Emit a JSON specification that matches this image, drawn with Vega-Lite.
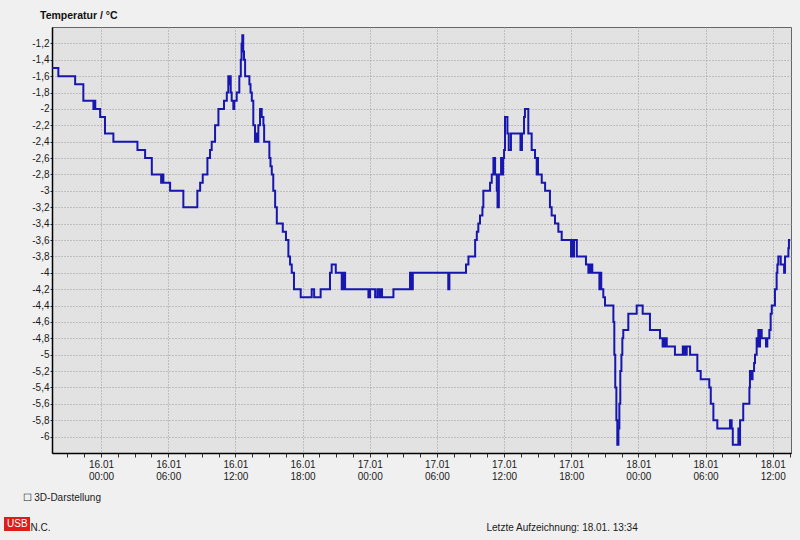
{
  "$schema": "https://vega.github.io/schema/vega-lite/v6.json",
  "width": 739,
  "height": 426,
  "autosize": {"type": "none"},
  "padding": {"left": 52, "top": 27, "right": 9, "bottom": 87},
  "background": "#f0f0f0",
  "config": {
    "font": "Liberation Sans",
    "view": {"fill": "#e2e2e2", "stroke": "#666666", "strokeWidth": 1},
    "axisY": {"labelOverlap": false}
  },
  "title": {
    "text": "Temperatur / °C",
    "orient": "top",
    "anchor": "start",
    "frame": "group",
    "dx": -12,
    "offset": 6,
    "fontSize": 10.5,
    "fontWeight": "bold",
    "color": "#111111"
  },
  "data": {
    "values": [
      {"time": "2013-01-15T19:37", "temp": -1.5},
      {"time": "2013-01-15T20:11", "temp": -1.6},
      {"time": "2013-01-15T21:41", "temp": -1.7},
      {"time": "2013-01-15T22:25", "temp": -1.9},
      {"time": "2013-01-15T23:19", "temp": -2.0},
      {"time": "2013-01-15T23:24", "temp": -1.9},
      {"time": "2013-01-15T23:29", "temp": -2.0},
      {"time": "2013-01-15T23:55", "temp": -2.1},
      {"time": "2013-01-16T00:21", "temp": -2.3},
      {"time": "2013-01-16T01:06", "temp": -2.4},
      {"time": "2013-01-16T03:15", "temp": -2.5},
      {"time": "2013-01-16T03:56", "temp": -2.6},
      {"time": "2013-01-16T04:32", "temp": -2.8},
      {"time": "2013-01-16T05:22", "temp": -2.9},
      {"time": "2013-01-16T05:27", "temp": -2.8},
      {"time": "2013-01-16T05:34", "temp": -2.9},
      {"time": "2013-01-16T06:10", "temp": -3.0},
      {"time": "2013-01-16T07:21", "temp": -3.2},
      {"time": "2013-01-16T08:36", "temp": -3.0},
      {"time": "2013-01-16T08:51", "temp": -2.9},
      {"time": "2013-01-16T09:05", "temp": -2.8},
      {"time": "2013-01-16T09:30", "temp": -2.6},
      {"time": "2013-01-16T09:44", "temp": -2.5},
      {"time": "2013-01-16T09:53", "temp": -2.4},
      {"time": "2013-01-16T10:11", "temp": -2.2},
      {"time": "2013-01-16T10:29", "temp": -2.0},
      {"time": "2013-01-16T10:59", "temp": -1.9},
      {"time": "2013-01-16T11:14", "temp": -1.8},
      {"time": "2013-01-16T11:22", "temp": -1.6},
      {"time": "2013-01-16T11:28", "temp": -1.7},
      {"time": "2013-01-16T11:31", "temp": -1.6},
      {"time": "2013-01-16T11:35", "temp": -1.8},
      {"time": "2013-01-16T11:40", "temp": -1.9},
      {"time": "2013-01-16T11:49", "temp": -2.0},
      {"time": "2013-01-16T11:54", "temp": -1.9},
      {"time": "2013-01-16T12:07", "temp": -1.8},
      {"time": "2013-01-16T12:21", "temp": -1.6},
      {"time": "2013-01-16T12:29", "temp": -1.4},
      {"time": "2013-01-16T12:33", "temp": -1.2},
      {"time": "2013-01-16T12:37", "temp": -1.1},
      {"time": "2013-01-16T12:42", "temp": -1.3},
      {"time": "2013-01-16T12:46", "temp": -1.4},
      {"time": "2013-01-16T12:52", "temp": -1.6},
      {"time": "2013-01-16T13:15", "temp": -1.7},
      {"time": "2013-01-16T13:21", "temp": -1.8},
      {"time": "2013-01-16T13:28", "temp": -1.9},
      {"time": "2013-01-16T13:36", "temp": -2.2},
      {"time": "2013-01-16T13:45", "temp": -2.4},
      {"time": "2013-01-16T13:52", "temp": -2.3},
      {"time": "2013-01-16T13:56", "temp": -2.4},
      {"time": "2013-01-16T14:03", "temp": -2.2},
      {"time": "2013-01-16T14:12", "temp": -2.0},
      {"time": "2013-01-16T14:21", "temp": -2.1},
      {"time": "2013-01-16T14:30", "temp": -2.2},
      {"time": "2013-01-16T14:34", "temp": -2.4},
      {"time": "2013-01-16T15:02", "temp": -2.6},
      {"time": "2013-01-16T15:08", "temp": -2.7},
      {"time": "2013-01-16T15:15", "temp": -2.8},
      {"time": "2013-01-16T15:23", "temp": -3.0},
      {"time": "2013-01-16T15:33", "temp": -3.2},
      {"time": "2013-01-16T15:42", "temp": -3.4},
      {"time": "2013-01-16T16:14", "temp": -3.5},
      {"time": "2013-01-16T16:31", "temp": -3.6},
      {"time": "2013-01-16T16:44", "temp": -3.8},
      {"time": "2013-01-16T16:53", "temp": -3.9},
      {"time": "2013-01-16T17:02", "temp": -4.0},
      {"time": "2013-01-16T17:14", "temp": -4.2},
      {"time": "2013-01-16T17:50", "temp": -4.3},
      {"time": "2013-01-16T18:49", "temp": -4.2},
      {"time": "2013-01-16T19:02", "temp": -4.3},
      {"time": "2013-01-16T19:37", "temp": -4.2},
      {"time": "2013-01-16T20:27", "temp": -4.0},
      {"time": "2013-01-16T20:36", "temp": -3.9},
      {"time": "2013-01-16T20:58", "temp": -4.0},
      {"time": "2013-01-16T21:30", "temp": -4.2},
      {"time": "2013-01-16T21:34", "temp": -4.0},
      {"time": "2013-01-16T21:39", "temp": -4.2},
      {"time": "2013-01-16T21:42", "temp": -4.0},
      {"time": "2013-01-16T21:48", "temp": -4.2},
      {"time": "2013-01-16T23:53", "temp": -4.3},
      {"time": "2013-01-17T00:02", "temp": -4.2},
      {"time": "2013-01-17T00:29", "temp": -4.3},
      {"time": "2013-01-17T00:41", "temp": -4.2},
      {"time": "2013-01-17T00:52", "temp": -4.3},
      {"time": "2013-01-17T01:01", "temp": -4.2},
      {"time": "2013-01-17T01:06", "temp": -4.3},
      {"time": "2013-01-17T02:07", "temp": -4.2},
      {"time": "2013-01-17T03:36", "temp": -4.0},
      {"time": "2013-01-17T03:40", "temp": -4.2},
      {"time": "2013-01-17T03:43", "temp": -4.0},
      {"time": "2013-01-17T03:47", "temp": -4.2},
      {"time": "2013-01-17T03:51", "temp": -4.0},
      {"time": "2013-01-17T07:01", "temp": -4.2},
      {"time": "2013-01-17T07:07", "temp": -4.0},
      {"time": "2013-01-17T08:36", "temp": -3.9},
      {"time": "2013-01-17T08:49", "temp": -3.8},
      {"time": "2013-01-17T09:25", "temp": -3.6},
      {"time": "2013-01-17T09:34", "temp": -3.5},
      {"time": "2013-01-17T09:42", "temp": -3.4},
      {"time": "2013-01-17T09:51", "temp": -3.3},
      {"time": "2013-01-17T10:04", "temp": -3.2},
      {"time": "2013-01-17T10:09", "temp": -3.0},
      {"time": "2013-01-17T10:45", "temp": -2.9},
      {"time": "2013-01-17T10:54", "temp": -2.8},
      {"time": "2013-01-17T11:03", "temp": -2.6},
      {"time": "2013-01-17T11:12", "temp": -2.8},
      {"time": "2013-01-17T11:21", "temp": -3.0},
      {"time": "2013-01-17T11:25", "temp": -3.2},
      {"time": "2013-01-17T11:32", "temp": -2.8},
      {"time": "2013-01-17T11:44", "temp": -2.6},
      {"time": "2013-01-17T11:49", "temp": -2.8},
      {"time": "2013-01-17T11:55", "temp": -2.6},
      {"time": "2013-01-17T12:00", "temp": -2.5},
      {"time": "2013-01-17T12:05", "temp": -2.1},
      {"time": "2013-01-17T12:18", "temp": -2.3},
      {"time": "2013-01-17T12:25", "temp": -2.5},
      {"time": "2013-01-17T12:37", "temp": -2.3},
      {"time": "2013-01-17T13:28", "temp": -2.5},
      {"time": "2013-01-17T13:36", "temp": -2.3},
      {"time": "2013-01-17T13:47", "temp": -2.1},
      {"time": "2013-01-17T13:52", "temp": -2.0},
      {"time": "2013-01-17T14:10", "temp": -2.3},
      {"time": "2013-01-17T14:28", "temp": -2.5},
      {"time": "2013-01-17T14:46", "temp": -2.6},
      {"time": "2013-01-17T14:55", "temp": -2.8},
      {"time": "2013-01-17T14:58", "temp": -2.6},
      {"time": "2013-01-17T15:02", "temp": -2.8},
      {"time": "2013-01-17T15:22", "temp": -2.9},
      {"time": "2013-01-17T15:40", "temp": -3.0},
      {"time": "2013-01-17T16:06", "temp": -3.2},
      {"time": "2013-01-17T16:15", "temp": -3.3},
      {"time": "2013-01-17T16:33", "temp": -3.4},
      {"time": "2013-01-17T16:51", "temp": -3.5},
      {"time": "2013-01-17T17:09", "temp": -3.6},
      {"time": "2013-01-17T17:59", "temp": -3.8},
      {"time": "2013-01-17T18:04", "temp": -3.6},
      {"time": "2013-01-17T18:10", "temp": -3.8},
      {"time": "2013-01-17T18:15", "temp": -3.6},
      {"time": "2013-01-17T18:30", "temp": -3.8},
      {"time": "2013-01-17T19:19", "temp": -3.9},
      {"time": "2013-01-17T19:32", "temp": -4.0},
      {"time": "2013-01-17T19:37", "temp": -3.9},
      {"time": "2013-01-17T19:43", "temp": -4.0},
      {"time": "2013-01-17T19:50", "temp": -3.9},
      {"time": "2013-01-17T19:53", "temp": -4.0},
      {"time": "2013-01-17T20:31", "temp": -4.2},
      {"time": "2013-01-17T20:36", "temp": -4.0},
      {"time": "2013-01-17T20:41", "temp": -4.2},
      {"time": "2013-01-17T20:52", "temp": -4.3},
      {"time": "2013-01-17T21:01", "temp": -4.4},
      {"time": "2013-01-17T21:46", "temp": -4.6},
      {"time": "2013-01-17T21:51", "temp": -5.0},
      {"time": "2013-01-17T21:56", "temp": -5.4},
      {"time": "2013-01-17T22:02", "temp": -5.8},
      {"time": "2013-01-17T22:07", "temp": -6.1},
      {"time": "2013-01-17T22:13", "temp": -5.9},
      {"time": "2013-01-17T22:18", "temp": -5.6},
      {"time": "2013-01-17T22:23", "temp": -5.2},
      {"time": "2013-01-17T22:29", "temp": -5.0},
      {"time": "2013-01-17T22:34", "temp": -4.8},
      {"time": "2013-01-17T22:39", "temp": -4.7},
      {"time": "2013-01-17T23:06", "temp": -4.5},
      {"time": "2013-01-17T23:51", "temp": -4.4},
      {"time": "2013-01-18T00:23", "temp": -4.5},
      {"time": "2013-01-18T01:02", "temp": -4.7},
      {"time": "2013-01-18T01:56", "temp": -4.8},
      {"time": "2013-01-18T02:10", "temp": -4.9},
      {"time": "2013-01-18T02:16", "temp": -4.8},
      {"time": "2013-01-18T02:21", "temp": -4.9},
      {"time": "2013-01-18T02:27", "temp": -4.8},
      {"time": "2013-01-18T02:32", "temp": -4.9},
      {"time": "2013-01-18T03:16", "temp": -5.0},
      {"time": "2013-01-18T03:58", "temp": -4.9},
      {"time": "2013-01-18T04:03", "temp": -5.0},
      {"time": "2013-01-18T04:07", "temp": -4.9},
      {"time": "2013-01-18T04:13", "temp": -5.0},
      {"time": "2013-01-18T04:19", "temp": -4.9},
      {"time": "2013-01-18T04:37", "temp": -5.0},
      {"time": "2013-01-18T05:16", "temp": -5.2},
      {"time": "2013-01-18T05:34", "temp": -5.3},
      {"time": "2013-01-18T06:20", "temp": -5.4},
      {"time": "2013-01-18T06:28", "temp": -5.6},
      {"time": "2013-01-18T06:42", "temp": -5.8},
      {"time": "2013-01-18T07:03", "temp": -5.9},
      {"time": "2013-01-18T08:11", "temp": -5.8},
      {"time": "2013-01-18T08:20", "temp": -5.9},
      {"time": "2013-01-18T08:26", "temp": -6.1},
      {"time": "2013-01-18T08:56", "temp": -5.9},
      {"time": "2013-01-18T09:00", "temp": -6.1},
      {"time": "2013-01-18T09:05", "temp": -5.8},
      {"time": "2013-01-18T09:22", "temp": -5.6},
      {"time": "2013-01-18T09:55", "temp": -5.4},
      {"time": "2013-01-18T09:58", "temp": -5.2},
      {"time": "2013-01-18T10:06", "temp": -5.3},
      {"time": "2013-01-18T10:12", "temp": -5.2},
      {"time": "2013-01-18T10:20", "temp": -5.1},
      {"time": "2013-01-18T10:25", "temp": -5.0},
      {"time": "2013-01-18T10:34", "temp": -4.8},
      {"time": "2013-01-18T10:39", "temp": -4.9},
      {"time": "2013-01-18T10:43", "temp": -4.7},
      {"time": "2013-01-18T10:47", "temp": -4.9},
      {"time": "2013-01-18T10:52", "temp": -4.7},
      {"time": "2013-01-18T11:01", "temp": -4.8},
      {"time": "2013-01-18T11:24", "temp": -4.9},
      {"time": "2013-01-18T11:31", "temp": -4.8},
      {"time": "2013-01-18T11:42", "temp": -4.7},
      {"time": "2013-01-18T11:49", "temp": -4.5},
      {"time": "2013-01-18T11:55", "temp": -4.4},
      {"time": "2013-01-18T12:12", "temp": -4.2},
      {"time": "2013-01-18T12:21", "temp": -4.0},
      {"time": "2013-01-18T12:25", "temp": -3.9},
      {"time": "2013-01-18T12:30", "temp": -3.8},
      {"time": "2013-01-18T12:43", "temp": -3.9},
      {"time": "2013-01-18T13:01", "temp": -4.0},
      {"time": "2013-01-18T13:06", "temp": -3.8},
      {"time": "2013-01-18T13:24", "temp": -3.7},
      {"time": "2013-01-18T13:27", "temp": -3.6},
      {"time": "2013-01-18T13:34", "temp": -3.6}
    ]
  },
  "layer": [
    {
      "mark": {"type": "line", "interpolate": "step-after", "strokeWidth": 2},
      "encoding": {
        "x": {
          "field": "time",
          "type": "temporal",
          "scale": {"domain": [
            {"year": 2013, "month": 1, "date": 15, "hours": 19, "minutes": 37},
            {"year": 2013, "month": 1, "date": 18, "hours": 13, "minutes": 38}
          ]},
          "axis": {
            "values": [
              {"year": 2013, "month": 1, "date": 15, "hours": 21, "minutes": 0},
              {"year": 2013, "month": 1, "date": 15, "hours": 22, "minutes": 30},
              {"year": 2013, "month": 1, "date": 16, "hours": 0, "minutes": 0},
              {"year": 2013, "month": 1, "date": 16, "hours": 1, "minutes": 30},
              {"year": 2013, "month": 1, "date": 16, "hours": 3, "minutes": 0},
              {"year": 2013, "month": 1, "date": 16, "hours": 4, "minutes": 30},
              {"year": 2013, "month": 1, "date": 16, "hours": 6, "minutes": 0},
              {"year": 2013, "month": 1, "date": 16, "hours": 7, "minutes": 30},
              {"year": 2013, "month": 1, "date": 16, "hours": 9, "minutes": 0},
              {"year": 2013, "month": 1, "date": 16, "hours": 10, "minutes": 30},
              {"year": 2013, "month": 1, "date": 16, "hours": 12, "minutes": 0},
              {"year": 2013, "month": 1, "date": 16, "hours": 13, "minutes": 30},
              {"year": 2013, "month": 1, "date": 16, "hours": 15, "minutes": 0},
              {"year": 2013, "month": 1, "date": 16, "hours": 16, "minutes": 30},
              {"year": 2013, "month": 1, "date": 16, "hours": 18, "minutes": 0},
              {"year": 2013, "month": 1, "date": 16, "hours": 19, "minutes": 30},
              {"year": 2013, "month": 1, "date": 16, "hours": 21, "minutes": 0},
              {"year": 2013, "month": 1, "date": 16, "hours": 22, "minutes": 30},
              {"year": 2013, "month": 1, "date": 17, "hours": 0, "minutes": 0},
              {"year": 2013, "month": 1, "date": 17, "hours": 1, "minutes": 30},
              {"year": 2013, "month": 1, "date": 17, "hours": 3, "minutes": 0},
              {"year": 2013, "month": 1, "date": 17, "hours": 4, "minutes": 30},
              {"year": 2013, "month": 1, "date": 17, "hours": 6, "minutes": 0},
              {"year": 2013, "month": 1, "date": 17, "hours": 7, "minutes": 30},
              {"year": 2013, "month": 1, "date": 17, "hours": 9, "minutes": 0},
              {"year": 2013, "month": 1, "date": 17, "hours": 10, "minutes": 30},
              {"year": 2013, "month": 1, "date": 17, "hours": 12, "minutes": 0},
              {"year": 2013, "month": 1, "date": 17, "hours": 13, "minutes": 30},
              {"year": 2013, "month": 1, "date": 17, "hours": 15, "minutes": 0},
              {"year": 2013, "month": 1, "date": 17, "hours": 16, "minutes": 30},
              {"year": 2013, "month": 1, "date": 17, "hours": 18, "minutes": 0},
              {"year": 2013, "month": 1, "date": 17, "hours": 19, "minutes": 30},
              {"year": 2013, "month": 1, "date": 17, "hours": 21, "minutes": 0},
              {"year": 2013, "month": 1, "date": 17, "hours": 22, "minutes": 30},
              {"year": 2013, "month": 1, "date": 18, "hours": 0, "minutes": 0},
              {"year": 2013, "month": 1, "date": 18, "hours": 1, "minutes": 30},
              {"year": 2013, "month": 1, "date": 18, "hours": 3, "minutes": 0},
              {"year": 2013, "month": 1, "date": 18, "hours": 4, "minutes": 30},
              {"year": 2013, "month": 1, "date": 18, "hours": 6, "minutes": 0},
              {"year": 2013, "month": 1, "date": 18, "hours": 7, "minutes": 30},
              {"year": 2013, "month": 1, "date": 18, "hours": 9, "minutes": 0},
              {"year": 2013, "month": 1, "date": 18, "hours": 10, "minutes": 30},
              {"year": 2013, "month": 1, "date": 18, "hours": 12, "minutes": 0},
              {"year": 2013, "month": 1, "date": 18, "hours": 13, "minutes": 30}
            ],
            "labelExpr": "(hours(datum.value) % 6 == 0 && minutes(datum.value) == 0) ? [timeFormat(datum.value, '%d.%m'), timeFormat(datum.value, '%H:%M')] : ''",
            "labelOverlap": false,
            "labelFlush": false,
            "labelBound": false,
            "labelFontSize": 10,
            "labelColor": "#1a1a1a",
            "labelLineHeight": 12,
            "labelPadding": 2,
            "tickSize": 4,
            "tickColor": "#333333",
            "domainColor": "#000000",
            "domainWidth": 1.5,
            "grid": true,
            "gridColor": "#9a9a9a",
            "gridDash": [1, 2],
            "gridOpacity": {"condition": {"test": "hours(datum.value) % 6 == 0 && minutes(datum.value) == 0", "value": 1}, "value": 0},
            "title": "☐ 3D-Darstellung",
            "titleX": -30,
            "titleY": 47,
            "titleAlign": "left",
            "titleBaseline": "alphabetic",
            "titleAngle": 0,
            "titleFontWeight": "normal",
            "titleFontSize": 10,
            "titleColor": "#1a1a1a"
          }
        },
        "y": {
          "field": "temp",
          "type": "quantitative",
          "scale": {"domain": [-6.2, -1.0], "nice": false, "zero": false},
          "axis": {
            "values": [-6, -5.8, -5.6, -5.4, -5.2, -5, -4.8, -4.6, -4.4, -4.2, -4, -3.8, -3.6, -3.4, -3.2, -3, -2.8, -2.6, -2.4, -2.2, -2, -1.8, -1.6, -1.4, -1.2],
            "labelExpr": "replace(toString(datum.value), '.', ',')",
            "labelOverlap": false,
            "labelFontSize": 10,
            "labelColor": "#1a1a1a",
            "labelPadding": 1,
            "tickSize": 2,
            "tickColor": "#333333",
            "domainColor": "#000000",
            "domainWidth": 1.5,
            "grid": true,
            "gridColor": "#9a9a9a",
            "gridDash": [1, 2],
            "title": "Letzte Aufzeichnung: 18.01. 13:34",
            "titleAngle": 0,
            "titleX": 434,
            "titleY": 503,
            "titleAlign": "left",
            "titleBaseline": "alphabetic",
            "titleFontWeight": "normal",
            "titleFontSize": 10,
            "titleColor": "#1a1a1a"
          }
        },
        "color": {
          "datum": "USB",
          "scale": {"range": ["#1717b0"]},
          "legend": {
            "orient": "none",
            "legendX": -48,
            "legendY": 490,
            "fillColor": "#dd1c1c",
            "padding": 2,
            "title": null,
            "symbolSize": 0,
            "symbolOpacity": 0,
            "symbolStrokeWidth": 0,
            "labelColor": "#ffffff",
            "labelFontSize": 10,
            "labelOffset": -9
          }
        }
      }
    },
    {
      "mark": {"type": "line", "interpolate": "step-after", "strokeOpacity": 0},
      "encoding": {
        "x": {
          "field": "time",
          "type": "temporal",
          "scale": {"domain": [
            {"year": 2013, "month": 1, "date": 15, "hours": 19, "minutes": 37},
            {"year": 2013, "month": 1, "date": 18, "hours": 13, "minutes": 38}
          ]},
          "axis": {
            "orient": "top",
            "labels": false,
            "ticks": false,
            "domain": false,
            "grid": false,
            "title": "N.C.",
            "titleX": -22,
            "titleY": 503,
            "titleAlign": "left",
            "titleBaseline": "alphabetic",
            "titleAngle": 0,
            "titleFontWeight": "normal",
            "titleFontSize": 10,
            "titleColor": "#1a1a1a"
          }
        }
      }
    }
  ],
  "resolve": {"axis": {"x": "independent"}}
}
